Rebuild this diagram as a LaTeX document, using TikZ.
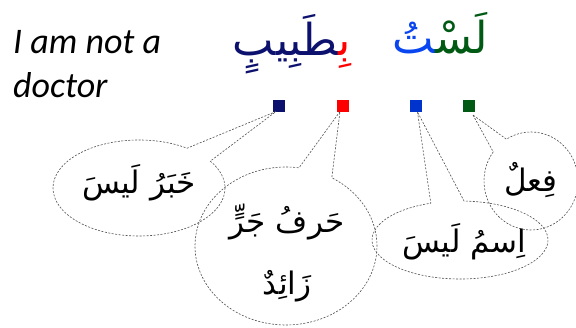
\documentclass[tikz,border=0pt]{standalone}
\usepackage{fontspec}
\usetikzlibrary{shapes.callouts,calc}
\TeXXeTstate=1
\newfontfamily\arabicfont[Script=Arabic]{DejaVu Sans}
\newfontfamily\engfont{Carlito}
\newcommand{\zj}{^^^^200d}
\definecolor{navc}{RGB}{13,17,110}
\definecolor{redc}{RGB}{255,0,0}
\definecolor{bluc}{RGB}{0,51,204}
\definecolor{grnc}{RGB}{0,90,20}
\definecolor{blutx}{RGB}{10,70,240}
\definecolor{linec}{RGB}{80,80,80}
\begin{document}
\begin{tikzpicture}[x=1pt,y=-1pt,
  cl/.style={ellipse callout, draw=linec, dash pattern=on 2pt off 1.5pt, line width=0.6pt,
             inner sep=0pt, outer sep=0pt, callout pointer arc=22},
  sq/.style={rectangle, minimum size=12pt, inner sep=0pt, outer sep=0pt},
  ar/.style={font=\arabicfont\fontsize{31}{62}\selectfont, inner sep=0pt, align=center},
  tt/.style={font=\arabicfont\fontsize{44}{50}\selectfont, inner sep=0pt},
  en/.style={font=\engfont\itshape\fontsize{36}{44}\selectfont, inner sep=0pt, anchor=base west}]
\useasboundingbox (0,0) rectangle (576,327);
% English
\node[en] (e1) at (13,53) {I am not a};
\node[en] (e2) at (13,97) {doctor};
% Arabic title (runs ordered right-to-left by hand, joined with ZWJ)
\node[tt, anchor=base] (w1) at (440,53) {{\color{blutx}\beginR\zj تُ\endR}{\color{grnc}\beginR لَسْ\zj\endR}};
\node[tt, anchor=base] (w2) at (292,55) {{\color{navc}\beginR\zj طَبِيبٍ\endR}{\color{redc}\beginR بِ\zj\endR}};
% squares
\node[sq, fill=navc] (sqn) at (279,105.5) {};
\node[sq, fill=redc] (sqr) at (343,105.5) {};
\node[sq, fill=bluc] (sqb) at (415.5,106) {};
\node[sq, fill=grnc] (sqg) at (469,106) {};
% callouts
\node[cl, minimum width=172pt, minimum height=96pt,
      callout absolute pointer={($(sqn.south)+(-3,0)$)}] (c1) at (139,188) {};
\node[cl, minimum width=182pt, minimum height=158pt,
      callout absolute pointer={($(sqr.south)+(-3,0)$)}] (c2) at (286,246) {};
\node[cl, minimum width=176pt, minimum height=78pt,
      callout absolute pointer={($(sqb.south)+(2,0)$)}] (c3) at (460,240) {};
\node[cl, minimum width=94pt, minimum height=98pt,
      callout absolute pointer={($(sqg.south east)+(-2,3)$)}] (c4) at (531,181) {};
% callout texts
\node[ar] (t1) at (139,183) {\beginR خَبَرُ لَيسَ\endR};
\node[ar] (t2) at (287,253) {\beginR حَرفُ جَرٍّ\endR\\\beginR زَائِدٌ\endR};
\node[ar] (t3) at (464,242) {\beginR اِسمُ لَيسَ\endR};
\node[ar] (t4) at (531,180) {\beginR فِعلٌ\endR};
\end{tikzpicture}
\end{document}
